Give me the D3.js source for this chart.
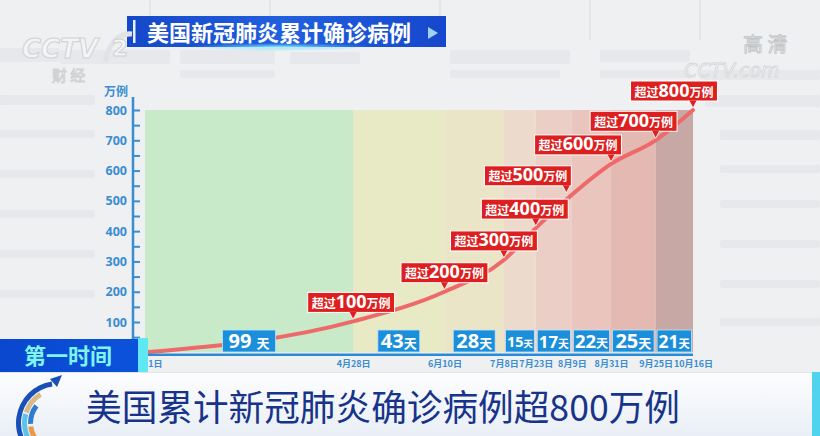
<!DOCTYPE html>
<html><head><meta charset="utf-8">
<script src="https://cdn.jsdelivr.net/npm/d3@7"></script>
<style>
html,body{margin:0;padding:0;background:#eff0f1;}
svg{display:block;font-family:"Noto Sans CJK SC","Noto Sans",sans-serif;}
</style>
</head><body>
<svg id="c" width="820" height="436"></svg>
<script>
// ---------------- data ----------------
const dates = ["2020-01-21","2020-04-28","2020-06-10","2020-07-08","2020-07-23","2020-08-09","2020-08-31","2020-09-25","2020-10-16"];
const dateLabels = ["1月21日","4月28日","6月10日","7月8日","7月23日","8月9日","8月31日","9月25日","10月16日"];
const cases = [0, 102, 200, 305, 410, 520, 622, 700, 800];            // 万例
const milestones = [100, 200, 300, 400, 500, 600, 700, 800];          // 超过 N 万例
const spanDays = [99, 43, 28, 15, 17, 22, 25, 21];                     // 天 between milestones
const yTicks = [100, 200, 300, 400, 500, 600, 700, 800];
const yMinorTicks = [50, 150, 250, 350, 450, 550, 650, 750];
const title = "美国新冠肺炎累计确诊病例";
const headline = "美国累计新冠肺炎确诊病例超800万例";

// ---------------- style / layout ----------------
const bandColors = ["#c9eac8","#e7eac5","#ebe5c8","#ecdacc","#ebcfc7","#e9c5be","#e4b9b2","#c8a8a4"];
const calloutDx = [-2, 0, -10, -11, -44, -33, -22, -19];
const blue = "#3a8dd2";
const W = 820, H = 436;
const plot = {left: 145, right: 693, top: 110, bottom: 352.3, axisX: 133};

const parse = d3.timeParse("%Y-%m-%d");
const D = dates.map(parse);

const x = d3.scaleTime()
  .domain([D[0], D[5], D[8]])
  .range([plot.left, plot.left + (plot.right - plot.left) * 0.779, plot.right]);
const y = d3.scaleLinear().domain([0, 800]).range([plot.bottom, plot.top]);

const svg = d3.select("#c");
const defs = svg.append("defs");

// ---------------- background ----------------
svg.append("rect").attr("width", W).attr("height", H).attr("fill", "#eff0f1");
const faint = [
  [0,48,60,14],[60,50,110,14],[180,50,95,14],[290,52,70,12],[450,50,120,14],[600,50,90,12],
  [180,70,95,8],[450,70,110,8],[600,70,90,8],[700,70,120,10],
  [0,95,95,10],[0,130,95,8],[0,170,95,8],[0,210,95,8],[0,250,95,8],[0,290,95,8],
  [705,95,115,12],[720,130,100,10],[720,165,100,8],[720,200,100,8],[720,240,100,8],[720,280,100,8],[720,318,100,8]
];
svg.append("g").selectAll("rect").data(faint).join("rect")
  .attr("x", d => d[0]).attr("y", d => d[1]).attr("width", d => d[2]).attr("height", d => d[3])
  .attr("rx", 2).attr("fill", "#e4e6e8").attr("opacity", 0.75);
svg.append("g").selectAll("line").data([150, 270, 440, 590, 700]).join("line")
  .attr("x1", d => d).attr("x2", d => d).attr("y1", 0).attr("y2", 40)
  .attr("stroke", "#e3e5e7").attr("stroke-width", 2);

// ---------------- bands ----------------
const segs = d3.range(spanDays.length).map(i => ({i, a: D[i], b: D[i + 1], days: spanDays[i]}));
svg.append("g").selectAll("rect").data(segs).join("rect")
  .attr("x", d => x(d.a)).attr("width", d => x(d.b) - x(d.a))
  .attr("y", y(800)).attr("height", y(0) - y(800))
  .attr("fill", d => bandColors[d.i]);

// ---------------- line ----------------
const pts = D.map((d, i) => ({d, v: cases[i]}));
svg.append("path").datum(pts)
  .attr("fill", "none").attr("stroke", "#ee6a6a").attr("stroke-width", 4)
  .attr("stroke-linecap", "round")
  .attr("d", d3.line().x(p => x(p.d)).y(p => y(p.v)).curve(d3.curveMonotoneX));

// ---------------- callouts ----------------
const cg = svg.append("g");
milestones.forEach((m, k) => {
  const px = x(D[k + 1]), py = y(cases[k + 1]);
  const g = cg.append("g");
  const t = g.append("text").attr("text-anchor", "middle").attr("fill", "#fff")
    .attr("font-weight", "bold");
  t.append("tspan").attr("font-size", 12).text("超过");
  t.append("tspan").attr("font-size", 18).attr("font-family", "'Noto Sans','DejaVu Sans',sans-serif").text(m);
  t.append("tspan").attr("font-size", 12).text("万例");
  const tw = t.node().getComputedTextLength();
  const bw = tw + 8, bh = 20;
  const cx = px + calloutDx[k];
  const bb = py - 9;
  g.insert("rect", "text")
    .attr("x", cx - bw / 2).attr("y", bb - bh).attr("width", bw).attr("height", bh)
    .attr("fill", "#de1f20").attr("stroke", "#fff").attr("stroke-width", 1);
  t.attr("x", cx).attr("y", bb - 4.5);
  const tx = Math.max(cx - bw / 2 + 6, Math.min(cx + bw / 2 - 5, px));
  g.append("path")
    .attr("d", `M${tx - 4},${bb - 0.5} L${tx},${py - 2} L${tx + 4},${bb - 0.5}`)
    .attr("fill", "#de1f20").attr("stroke", "#fff").attr("stroke-width", 0.8);
});

// ---------------- day boxes ----------------
const dg = svg.append("g");
segs.forEach(s => {
  const x0 = x(s.a), x1 = x(s.b), cx = (x0 + x1) / 2;
  const g = dg.append("g");
  const t = g.append("text").attr("text-anchor", "middle").attr("fill", "#fff").attr("font-weight", "bold");
  const n1 = t.append("tspan").attr("font-size", 20).attr("font-family", "'Noto Sans','DejaVu Sans',sans-serif")
    .text(s.days + (s.i === 0 ? " " : ""));
  const n2 = t.append("tspan").attr("font-size", 13).text("天");
  const tw = t.node().getComputedTextLength();
  const maxW = x1 - x0 - 3;
  const bw = Math.min(tw + (s.i === 0 ? 12 : 6), maxW);
  const k = Math.min(1, (bw - 3) / tw);
  if (k < 1) { n1.attr("font-size", 20 * k); n2.attr("font-size", 13 * k); }
  g.insert("rect", "text").attr("x", cx - bw / 2).attr("y", 330).attr("width", bw).attr("height", 22)
    .attr("fill", "#1c8fdb").attr("stroke", "#bfe3fa").attr("stroke-width", 0.8);
  t.attr("x", cx).attr("y", 348 - (1 - k) * 3);
});

// ---------------- axes ----------------
const yAxis = d3.axisLeft(y).tickValues(yTicks).tickSizeInner(-7).tickSizeOuter(0).tickPadding(6);
const ya = svg.append("g").attr("transform", `translate(${plot.axisX},0)`).call(yAxis);
ya.select(".domain").remove();
ya.selectAll("line").attr("stroke", blue).attr("stroke-width", 2);
ya.selectAll("text").attr("fill", blue).attr("font-size", 12.5).attr("font-weight", "bold")
  .attr("font-family", "'Noto Sans','DejaVu Sans',sans-serif");
const ym = svg.append("g").attr("transform", `translate(${plot.axisX},0)`)
  .call(d3.axisLeft(y).tickValues(yMinorTicks).tickSizeInner(-7).tickSizeOuter(0).tickFormat(""));
ym.select(".domain").remove();
ym.selectAll("line").attr("stroke", blue).attr("stroke-width", 2);
svg.append("line").attr("x1", plot.axisX).attr("x2", plot.axisX)
  .attr("y1", y(800) - 13).attr("y2", y(0) + 3.5).attr("stroke", blue).attr("stroke-width", 2.5);
svg.append("text").attr("x", plot.axisX - 5).attr("y", y(800) - 14).attr("text-anchor", "end")
  .attr("fill", blue).attr("font-size", 12).attr("font-weight", "bold").text("万例");

const xAxis = d3.axisBottom(x).tickValues(D).tickSize(0).tickPadding(5)
  .tickFormat((d, i) => dateLabels[i]);
const xa = svg.append("g").attr("transform", `translate(0,${y(0) + 3})`).call(xAxis);
xa.select(".domain").remove();
xa.selectAll("text").attr("fill", blue).attr("font-size", 9).attr("font-weight", "bold")
  .attr("font-family", "'Noto Sans CJK SC',sans-serif");
svg.append("line").attr("x1", plot.axisX).attr("x2", plot.right)
  .attr("y1", y(0) + 2.5).attr("y2", y(0) + 2.5).attr("stroke", "#2b8ad6").attr("stroke-width", 2.5);

// ---------------- overlays: title banner ----------------
const tg = defs.append("linearGradient").attr("id", "tg").attr("x1", 0).attr("x2", 1);
tg.append("stop").attr("offset", 0).attr("stop-color", "#1547c9");
tg.append("stop").attr("offset", 0.5).attr("stop-color", "#2160de");
tg.append("stop").attr("offset", 1).attr("stop-color", "#1647cc");
const glow = defs.append("radialGradient").attr("id", "glow");
glow.append("stop").attr("offset", 0).attr("stop-color", "#9ff4ff").attr("stop-opacity", 0.9);
glow.append("stop").attr("offset", 1).attr("stop-color", "#5fd8ff").attr("stop-opacity", 0);
svg.append("rect").attr("x", 127).attr("y", 16).attr("width", 319).attr("height", 31).attr("fill", "url(#tg)");
svg.append("ellipse").attr("cx", 280).attr("cy", 47).attr("rx", 90).attr("ry", 4).attr("fill", "url(#glow)");
svg.append("rect").attr("x", 133).attr("y", 20).attr("width", 2.5).attr("height", 23).attr("fill", "#e8f0ff");
svg.append("text").attr("x", 147).attr("y", 40.5).attr("fill", "#fff").attr("font-size", 22)
  .attr("font-weight", "bold").text(title);
svg.append("path").attr("d", "M428,27 L438,33 L428,39 Z").attr("fill", "#9fd2f6");

// CCTV watermark
const wm = svg.append("g").attr("fill", "#f3f4f5").attr("stroke", "#d0d2d4").attr("stroke-width", 1)
  .attr("font-family", "'DejaVu Sans',sans-serif").attr("font-weight", "bold");
wm.append("text").attr("x", 22).attr("y", 58).attr("font-size", 26).attr("font-style", "italic").text("CCTV");
wm.append("path").attr("d", "M105,62 Q112,32 132,34").attr("fill", "none").attr("stroke-width", 5).attr("stroke", "#e2e3e5");
wm.append("text").attr("x", 112).attr("y", 56).attr("font-size", 23).text("2");
wm.append("text").attr("x", 52).attr("y", 81).attr("font-size", 15).attr("font-family", "'Noto Sans CJK SC'")
  .attr("font-weight", "normal").text("财  经");
const wm2 = svg.append("g").attr("fill", "#eeeff0").attr("stroke", "#c2c4c6").attr("stroke-width", 0.8);
wm2.append("text").attr("x", 743).attr("y", 52).attr("font-size", 20).text("高 清");
wm2.append("text").attr("x", 684).attr("y", 77).attr("font-size", 19).attr("font-style", "italic")
  .attr("font-family", "'DejaVu Sans',sans-serif").attr("fill", "#f3f3f3").attr("stroke", "#d4d6d8").text("CCTV.com");

// ---------------- overlays: 第一时间 ----------------
const bg1 = defs.append("linearGradient").attr("id", "bg1").attr("x1", 0).attr("x2", 1);
bg1.append("stop").attr("offset", 0).attr("stop-color", "#0a47cf");
bg1.append("stop").attr("offset", 1).attr("stop-color", "#0b52da");
svg.append("rect").attr("x", 138).attr("y", 338).attr("width", 10).attr("height", 34).attr("fill", "#5fe8f4");
svg.append("rect").attr("x", 0).attr("y", 339).attr("width", 138).attr("height", 33).attr("fill", "url(#bg1)");
svg.append("text").attr("x", 68).attr("y", 364).attr("text-anchor", "middle").attr("fill", "#7ff3ee")
  .attr("font-size", 22).attr("font-weight", "bold").text("第一时间");

// ---------------- overlays: bottom banner ----------------
const bb = defs.append("linearGradient").attr("id", "bb").attr("x1", 0).attr("x2", 0).attr("y1", 0).attr("y2", 1);
bb.append("stop").attr("offset", 0).attr("stop-color", "#fdfdfe");
bb.append("stop").attr("offset", 1).attr("stop-color", "#e9eff6");
svg.append("rect").attr("x", 0).attr("y", 372).attr("width", W).attr("height", H - 372).attr("fill", "url(#bb)");
svg.append("line").attr("x1", 0).attr("x2", W).attr("y1", 372.5).attr("y2", 372.5).attr("stroke", "#dfe4ea");
svg.append("rect").attr("x", 812).attr("y", 372).attr("width", 8).attr("height", H - 372).attr("fill", "#4fd3ef");

// logo arcs
const lc = [58, 423];
const lg = svg.append("g").attr("transform", `translate(${lc[0]},${lc[1]})`);
const arc = d3.arc();
lg.append("path").attr("d", arc({innerRadius: 37, outerRadius: 42, startAngle: -2.7, endAngle: -0.15})).attr("fill", "#1a4fb8");
lg.append("path").attr("d", arc({innerRadius: 31, outerRadius: 36, startAngle: -2.5, endAngle: -1.3})).attr("fill", "#5cc3ea");
lg.append("path").attr("d", arc({innerRadius: 31, outerRadius: 36, startAngle: -1.25, endAngle: -0.55})).attr("fill", "#d8b98a");
lg.append("path").attr("d", arc({innerRadius: 25, outerRadius: 30, startAngle: -2.3, endAngle: -1.7})).attr("fill", "#e79a4a");
lg.append("path").attr("d", arc({innerRadius: 25, outerRadius: 30, startAngle: -1.6, endAngle: -0.9})).attr("fill", "#2f7bd0");
lg.append("path").attr("d", "M-8,-44 L4,-48 L-1,-36 Z").attr("fill", "#1a4fb8");

svg.append("text").attr("x", 86).attr("y", 421).attr("fill", "#17348a").attr("font-size", 36)
  .attr("font-family", "'Noto Sans CJK SC',sans-serif").attr("textLength", 594)
  .attr("lengthAdjust", "spacingAndGlyphs").text(headline);
</script>
</body></html>
